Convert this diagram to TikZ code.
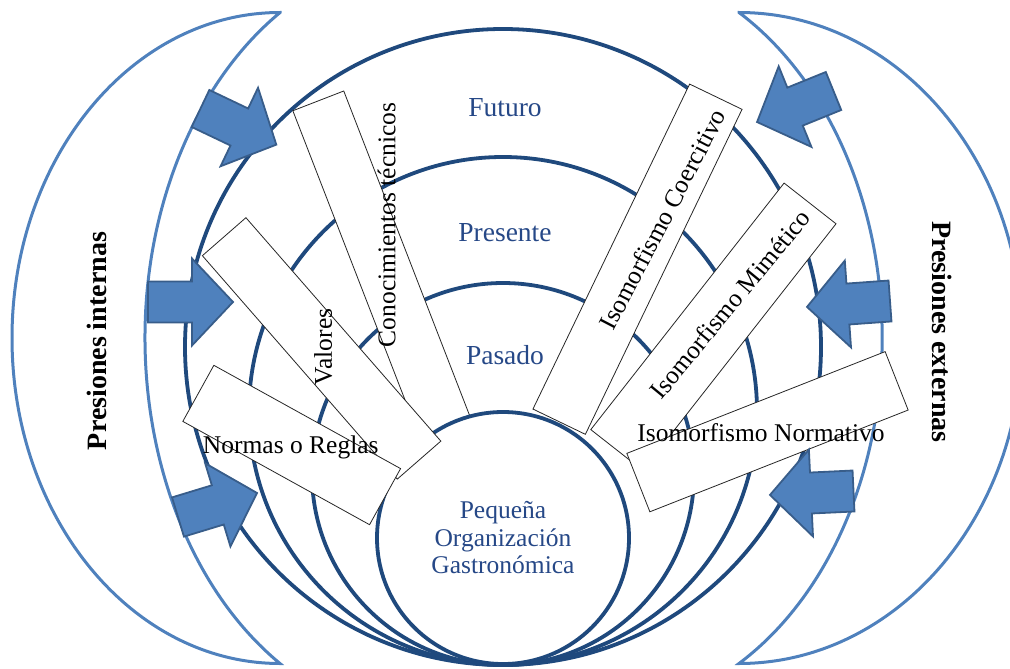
\documentclass[tikz,border=0pt]{standalone}
\usepackage{fontspec}
\setmainfont{Liberation Serif}
\definecolor{navy}{RGB}{31,73,125}
\definecolor{lblue}{RGB}{79,129,189}
\definecolor{aborder}{RGB}{56,93,138}
\definecolor{txtblue}{RGB}{38,72,135}
\newcommand{\blockarr}[4]{%
  \begin{scope}[shift={(#1,#2)}, rotate=#3]
    \draw[barrow] (0,-20.5) -- (#4-41,-20.5) -- (#4-41,-43.5) -- (#4,0)
      -- (#4-41,43.5) -- (#4-41,20.5) -- (0,20.5) -- cycle;
  \end{scope}}
\begin{document}
\begin{tikzpicture}[x=1pt,y=-1pt,
  cres/.style={draw=lblue, line width=3pt},
  ring/.style={draw=navy, line width=3.8pt},
  barrow/.style={draw=aborder, line width=1.8pt, fill=lblue, line join=miter},
  rbox/.style={draw=black!85, line width=0.8pt, fill=white, inner sep=0pt, outer sep=0pt},
  lab/.style={inner sep=0pt, font=\fontsize{25.5}{30}\selectfont, text=black},
  ringlab/.style={inner sep=0pt, font=\fontsize{27.5}{32}\selectfont, text=txtblue},
  pres/.style={inner sep=0pt, font=\fontsize{28}{32}\selectfont\bfseries, text=black}]
\clip (0,0) rectangle (1010,669);

% crescents
\draw[cres] (280,12.5) arc[start angle=90, end angle=270, x radius=268pt, y radius=325.5pt]
  arc[start angle=238.58, end angle=121.42, x radius=282pt, y radius=381.4pt] -- cycle;
\draw[cres] (739,12.5) arc[start angle=90, end angle=-90, x radius=283pt, y radius=325.5pt]
  arc[start angle=-60.5, end angle=60.5, x radius=282pt, y radius=374pt] -- cycle;

% rings
\draw[ring] (503,347) circle[radius=318pt];
\draw[ring] (503,411) circle[radius=254pt];
\draw[ring] (503,474) circle[radius=191pt];

% lower rectangles
\node[rbox, minimum width=380pt, minimum height=54.6pt, rotate=-68.8] (rcono) at (387,278) {};
\node[rbox, minimum width=360.8pt, minimum height=58.2pt, rotate=64.26] (rcoer) at (637.5,259.2) {};

% inner circle
\draw[ring, fill=white] (503,538) circle[radius=126pt];

% upper rectangles
\node[rbox, minimum width=296.5pt, minimum height=57.8pt, rotate=-48.9] (rval) at (321.6,348.4) {};
\node[rbox, minimum width=213.4pt, minimum height=64.1pt, rotate=-28.95] (rnorm) at (291.7,445) {};
\node[rbox, minimum width=313.3pt, minimum height=66pt, rotate=51.9] (rmim) at (713.4,326.7) {};
\node[rbox, minimum width=277.6pt, minimum height=62.8pt, rotate=21.5] (rnvo) at (767.5,431.7) {};

% ring labels
\node[ringlab] (fut) at (505,108) {Futuro};
\node[ringlab] (pres) at (505,233) {Presente};
\node[ringlab] (pas) at (505,355) {Pasado};
\node[inner sep=0pt, align=center, text=txtblue, font=\fontsize{25.5}{27.5}\selectfont] (org) at (503,538) {Pequeña\\Organización\\Gastronómica};

% box labels
\node[lab, rotate=90] (tcono) at (386.7,225) {Conocimientos técnicos};
\node[lab, rotate=90] (tval) at (323.3,347) {Valores};
\node[lab] (tnorm) at (290.8,447) {Normas o Reglas};
\node[lab, rotate=62.5] (tcoer) at (662.5,219) {Isomorfismo Coercitivo};
\node[lab, rotate=50.5] (tmim) at (730,304) {Isomorfismo Mimético};
\node[lab] (tnvo) at (761,433) {Isomorfismo Normativo};

% side labels
\node[pres, rotate=90] (pint) at (96.5,341) {Presiones internas};
\node[pres, rotate=-90] (pext) at (942,332) {Presiones externas};

% block arrows
\blockarr{200.5}{108.5}{-25.5}{84}
\blockarr{148}{302}{0}{85}
\blockarr{178}{517}{16.9}{82.6}
\blockarr{833.5}{91}{-157.9}{82.5}
\blockarr{890}{301}{-175.9}{83.2}
\blockarr{853.5}{491}{-177.3}{83.6}
\end{tikzpicture}
\end{document}
